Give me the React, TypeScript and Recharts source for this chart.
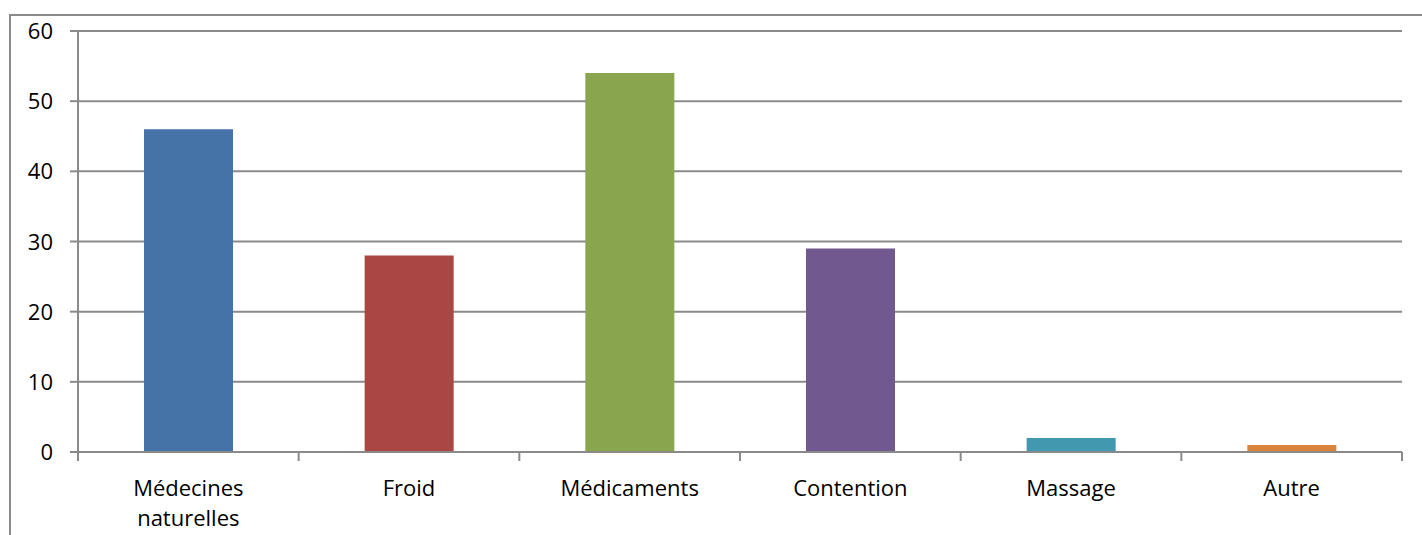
import React from "react";
import { BarChart, Bar, XAxis, YAxis, CartesianGrid, Cell } from "recharts";

const categories = ["Médecines naturelles", "Froid", "Médicaments", "Contention", "Massage", "Autre"];
const values = [46, 28, 54, 29, 2, 1];
const colors = ["#4572A7", "#AA4643", "#89A54E", "#71588F", "#4198AF", "#DB843D"];
const yTicks = [0, 10, 20, 30, 40, 50, 60];

const data = categories.map((c, i) => ({ name: c, value: values[i] }));

const W = 1422;
const H = 535;
const LEFT = 78;
const RIGHT = 20;
const TOP = 31;
const XAXIS_H = 83;
const GRAY = "#8a8a8a";
const FONT = "'Open Sans', sans-serif";
const FS = 22;
const band = (W - LEFT - RIGHT) / categories.length;

const XTick = (props: any) => {
  const { x, y, payload, index } = props;
  const words: string[] = String(payload.value).split(" ");
  const lines = words.length > 1 ? words : [payload.value];
  const left = x - band / 2;
  return (
    <g>
      <line x1={left} x2={left} y1={y - 8} y2={y + 1} stroke={GRAY} strokeWidth={2} />
      {index === categories.length - 1 && (
        <line x1={left + band} x2={left + band} y1={y - 8} y2={y + 1} stroke={GRAY} strokeWidth={2} />
      )}
      <text x={x} y={y + 36} textAnchor="middle" fill="#000" fontSize={FS} fontFamily={FONT}>
        {lines.map((l, i) => (
          <tspan key={i} x={x} dy={i === 0 ? 0 : 30}>
            {l}
          </tspan>
        ))}
      </text>
    </g>
  );
};

const YTick = (props: any) => {
  const { x, y, payload } = props;
  return (
    <text x={x - 15} y={y + 8} textAnchor="end" fill="#000" fontSize={FS} fontFamily={FONT}>
      {payload.value}
    </text>
  );
};

export default function App() {
  return (
    <div style={{ position: "fixed", left: 0, top: 0, width: W, height: H, overflow: "hidden", background: "#fff" }}>
      <div
        style={{
          position: "absolute",
          left: 9,
          top: 14,
          width: W,
          height: H,
          borderLeft: `2px solid ${GRAY}`,
          borderTop: `2px solid ${GRAY}`,
          boxSizing: "border-box",
        }}
      />
      <div style={{ position: "absolute", left: 0, top: 0 }}>
        <BarChart
          width={W}
          height={H}
          data={data}
          margin={{ top: TOP, right: RIGHT, left: 0, bottom: 0 }}
        >
          <CartesianGrid vertical={false} stroke={GRAY} strokeWidth={2} />
          <XAxis
            dataKey="name"
            height={XAXIS_H}
            axisLine={{ stroke: GRAY, strokeWidth: 2 }}
            tickLine={false}
            tick={<XTick />}
            interval={0}
          />
          <YAxis
            width={LEFT}
            domain={[0, 60]}
            ticks={yTicks}
            axisLine={{ stroke: GRAY, strokeWidth: 2 }}
            tickLine={{ stroke: GRAY, strokeWidth: 2 }}
            tickSize={8}
            tick={<YTick />}
          />
          <Bar dataKey="value" barSize={89} isAnimationActive={false}>
            {data.map((d, i) => (
              <Cell key={i} fill={colors[i]} />
            ))}
          </Bar>
        </BarChart>
      </div>
    </div>
  );
}
